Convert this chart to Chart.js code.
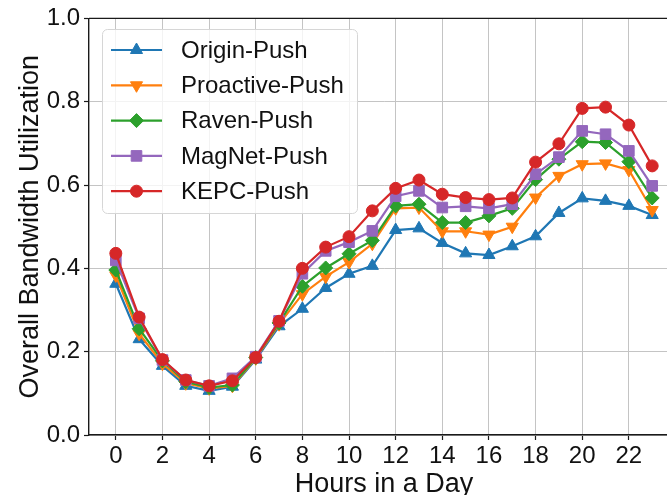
<!DOCTYPE html>
<html>
<head>
<meta charset="utf-8">
<script src="https://cdn.jsdelivr.net/npm/chart.js@4.4.1/dist/chart.umd.min.js"></script>
<style>
  html, body { margin: 0; padding: 0; background: #fff; overflow: hidden; }
  #wrap { width: 667px; height: 495px; overflow: hidden; position: relative; }
  #box { width: 700px; height: 495px; position: absolute; left: 0; top: 0; }
</style>
</head>
<body>
<div id="wrap"><div id="box"><canvas id="c"></canvas></div></div>
<script>
// Hourly bandwidth utilization for five push strategies
const hours = [0,1,2,3,4,5,6,7,8,9,10,11,12,13,14,15,16,17,18,19,20,21,22,23];
const xTickValues = [0,2,4,6,8,10,12,14,16,18,20,22];
const yTickValues = [0.0,0.2,0.4,0.6,0.8,1.0];

const originPush    = [0.363,0.230,0.166,0.118,0.106,0.116,0.181,0.261,0.303,0.353,0.387,0.406,0.492,0.496,0.461,0.436,0.432,0.453,0.477,0.533,0.568,0.562,0.550,0.528];
const proactivePush = [0.383,0.243,0.171,0.124,0.112,0.118,0.184,0.266,0.338,0.380,0.415,0.459,0.544,0.546,0.489,0.489,0.481,0.500,0.570,0.622,0.650,0.652,0.636,0.540];
const ravenPush     = [0.396,0.255,0.178,0.128,0.114,0.120,0.186,0.269,0.357,0.401,0.435,0.467,0.550,0.554,0.510,0.510,0.526,0.544,0.613,0.662,0.704,0.702,0.656,0.569];
const magnetPush    = [0.419,0.280,0.180,0.132,0.118,0.136,0.188,0.274,0.387,0.442,0.463,0.490,0.573,0.586,0.546,0.549,0.544,0.554,0.626,0.667,0.730,0.722,0.682,0.598];
const kepcPush      = [0.436,0.283,0.181,0.132,0.118,0.130,0.186,0.273,0.400,0.451,0.476,0.538,0.592,0.612,0.578,0.570,0.565,0.569,0.655,0.699,0.784,0.787,0.744,0.646];

const seriesNames = ['Origin-Push','Proactive-Push','Raven-Push','MagNet-Push','KEPC-Push'];
const seriesValues = [originPush, proactivePush, ravenPush, magnetPush, kepcPush];
const seriesColors = ['#1f77b4','#ff7f0e','#2ca02c','#9467bd','#d62728'];
const seriesMarkers = [
  { pointStyle: 'triangle', rotation: 0,   radius: 7 },
  { pointStyle: 'triangle', rotation: 180, radius: 7 },
  { pointStyle: 'rectRot',  rotation: 0,   radius: 7 },
  { pointStyle: 'rect',     rotation: 0,   radius: 7.5 },
  { pointStyle: 'circle',   rotation: 0,   radius: 6 }
];

const FONT = '"Liberation Sans", Arial, Helvetica, sans-serif';

const datasets = seriesNames.map((name, i) => ({
  label: name,
  data: hours.map((h, k) => ({ x: h, y: seriesValues[i][k] })),
  borderColor: seriesColors[i],
  backgroundColor: seriesColors[i],
  borderWidth: 2.2,
  pointStyle: seriesMarkers[i].pointStyle,
  pointRotation: seriesMarkers[i].rotation,
  pointRadius: seriesMarkers[i].radius,
  pointHoverRadius: seriesMarkers[i].radius,
  pointBorderWidth: 1,
  pointBorderColor: seriesColors[i],
  pointBackgroundColor: seriesColors[i],
  tension: 0,
  order: seriesNames.length - i   // later series drawn on top
}));

// Frame on top/right and a boxed legend with line + marker samples
const framePlugin = {
  id: 'frame',
  afterDatasetsDraw(chart) {
    const { ctx, chartArea: a } = chart;
    ctx.save();
    ctx.strokeStyle = '#1a1a1a';
    ctx.lineWidth = 1.4;
    ctx.beginPath();
    ctx.moveTo(a.left, a.top);
    ctx.lineTo(a.right, a.top);
    ctx.lineTo(a.right, a.bottom);
    ctx.stroke();
    ctx.restore();
  }
};

const legendPlugin = {
  id: 'boxLegend',
  afterDraw(chart) {
    const ctx = chart.ctx;
    const bx = 102, by = 29, bw = 255, bh = 184, rr = 5;
    ctx.save();
    ctx.beginPath();
    ctx.roundRect(bx + 0.5, by + 0.5, bw, bh, rr);
    ctx.fillStyle = 'rgba(255,255,255,0.8)';
    ctx.fill();
    ctx.strokeStyle = '#d6d6d6';
    ctx.lineWidth = 1;
    ctx.stroke();

    const rowY0 = 50, rowStep = 35.3;
    chart.data.datasets.forEach((ds, i) => {
      const y = rowY0 + i * rowStep;
      ctx.strokeStyle = ds.borderColor;
      ctx.lineWidth = 2.2;
      ctx.beginPath();
      ctx.moveTo(111, y);
      ctx.lineTo(162, y);
      ctx.stroke();
      ctx.fillStyle = ds.backgroundColor;
      ctx.strokeStyle = ds.borderColor;
      ctx.lineWidth = 1;
      Chart.helpers.drawPoint(ctx, {
        pointStyle: ds.pointStyle,
        rotation: ds.pointRotation,
        radius: ds.pointRadius,
        borderWidth: 1
      }, 136.5, y);
      ctx.fillStyle = '#111';
      ctx.font = '24px ' + FONT;
      ctx.textAlign = 'left';
      ctx.textBaseline = 'middle';
      ctx.fillText(ds.label, 181, y + 1);
    });
    ctx.restore();
  }
};

new Chart(document.getElementById('c'), {
  type: 'line',
  data: { datasets },
  plugins: [framePlugin, legendPlugin],
  options: {
    responsive: true,
    maintainAspectRatio: false,
    animation: false,
    layout: { padding: { top: 17, right: 21, left: 0, bottom: 0 } },
    plugins: { legend: { display: false }, tooltip: { enabled: false } },
    scales: {
      x: {
        type: 'linear',
        min: -1.15,
        max: 24.15,
        afterBuildTicks(scale) { scale.ticks = xTickValues.map(v => ({ value: v })); },
        afterFit(scale) { scale.height = 60; },
        ticks: {
          color: '#111',
          font: { family: FONT, size: 24 },
          padding: 2,
          maxRotation: 0,
          autoSkip: false,
          callback: v => String(v)
        },
        grid: {
          color: '#c4c4c4',
          lineWidth: 1,
          borderDash: [3, 1.5],
          drawTicks: true,
          tickLength: 5,
          tickColor: '#1a1a1a',
          tickWidth: 1.2,
          tickBorderDash: []
        },
        border: { display: true, color: '#1a1a1a', width: 1.4 },
        title: {
          display: true,
          text: 'Hours in a Day',
          color: '#111',
          font: { family: FONT, size: 27, lineHeight: 0.8 },
          padding: { top: 0, bottom: 0 }
        }
      },
      y: {
        type: 'linear',
        min: 0,
        max: 1,
        afterBuildTicks(scale) { scale.ticks = yTickValues.map(v => ({ value: v })); },
        afterFit(scale) { scale.width = 89; },
        ticks: {
          color: '#111',
          font: { family: FONT, size: 24 },
          padding: 4,
          callback: v => Number(v).toFixed(1)
        },
        grid: {
          color: '#c4c4c4',
          lineWidth: 1,
          borderDash: [3, 1.5],
          drawTicks: true,
          tickLength: 5,
          tickColor: '#1a1a1a',
          tickWidth: 1.2,
          tickBorderDash: []
        },
        border: { display: true, color: '#1a1a1a', width: 1.4 },
        title: {
          display: true,
          text: 'Overall Bandwidth Utilization',
          color: '#111',
          font: { family: FONT, size: 27 },
          padding: { top: 14, bottom: 0 }
        }
      }
    }
  }
});
</script>
</body>
</html>
